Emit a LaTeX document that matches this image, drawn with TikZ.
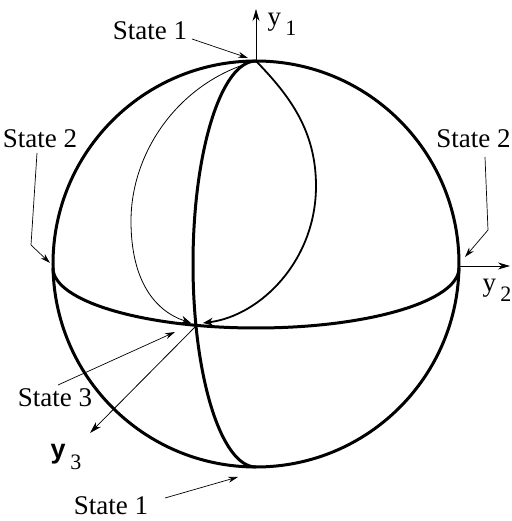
\documentclass[tikz,border=0pt]{standalone}
\usepackage{fontspec}
\setmainfont{Liberation Serif}
\newfontfamily\axisfont{Liberation Sans}
\usetikzlibrary{arrows.meta}

\begin{document}
\begin{tikzpicture}[x=0.5pt, y=0.5pt,
    lbl/.style={font=\fontsize{13.5}{16}\selectfont, inner sep=0pt},
    ptr/.style={-{Stealth[length=5pt, width=3pt]}, line width=0.35pt},
    axis/.style={-{Stealth[length=6pt, width=3.5pt]}, line width=0.4pt},
    rim/.style={line width=1.5pt},
    path/.style={-{Stealth[length=5pt, width=4pt]}},
]
\useasboundingbox (0,0) rectangle (511,521);
% sphere and great circles
\coordinate (c) at (256,257);
\coordinate (top) at (256,460);
\coordinate (bot) at (256,54);
\coordinate (lft) at (53,253);
\coordinate (rgt) at (459,253);
\coordinate (front) at (197,196);
\draw[rim] (c) circle[radius=203];
\draw[rim] (lft) arc[start angle=180, end angle=360, x radius=203, y radius=60];
\draw[rim] (top) arc[start angle=90, end angle=270, x radius=63, y radius=203];
% trajectories into state 3
\draw[path, line width=0.4pt] (top) .. controls (180,440) and (131,370) .. (131,300)
    .. controls (131,240) and (155,210) .. (191,198);
\draw[path, line width=0.9pt] (top) .. controls (290,425) and (316,390) .. (316,335)
    .. controls (316,260) and (260,205) .. (203,198);
% axes
\coordinate (y1tip) at (256,512);
\coordinate (y2tip) at (510,255);
\coordinate (y3tip) at (90,88);
\draw[axis] (top) -- (y1tip);
\draw[axis] (459,255) -- (y2tip);
\draw[axis] (front) -- (y3tip);
\node[lbl] (y1) at (282,497) {y\,\raisebox{-0.8ex}{\fontsize{11}{12}\selectfont 1}};
\node[lbl] (y2) at (497,231) {y\,\raisebox{-0.8ex}{\fontsize{11}{12}\selectfont 2}};
\node[lbl] (y3) at (66,64) {\axisfont\bfseries y\,\raisebox{-0.8ex}{\mdseries\rmfamily\fontsize{11}{12}\selectfont 3}};
% state labels
\node[lbl] (s1top) at (150,490) {State 1};
\node[lbl] (s2l) at (40,382) {State 2};
\node[lbl, anchor=east] (s2r) at (511,382) {State 2};
\node[lbl] (s3) at (55,123) {State 3};
\node[lbl] (s1bot) at (111,15) {State 1};
% pointers
\coordinate (p1) at (192,482);
\coordinate (q1) at (248,463);
\coordinate (p2) at (37,368);
\coordinate (q2) at (50,258);
\coordinate (p3) at (485,364);
\coordinate (q3) at (465,264);
\coordinate (p4) at (58,136);
\coordinate (q4) at (175,189);
\coordinate (p5) at (165,23);
\coordinate (q5) at (238,44);
\draw[ptr] (p1) -- (q1);
\draw[ptr] (p2) -- (31,276) -- (q2);
\draw[ptr] (p3) -- (488,291) -- (q3);
\draw[ptr] (p4) -- (q4);
\draw[ptr] (p5) -- (q5);
\end{tikzpicture}
\end{document}
